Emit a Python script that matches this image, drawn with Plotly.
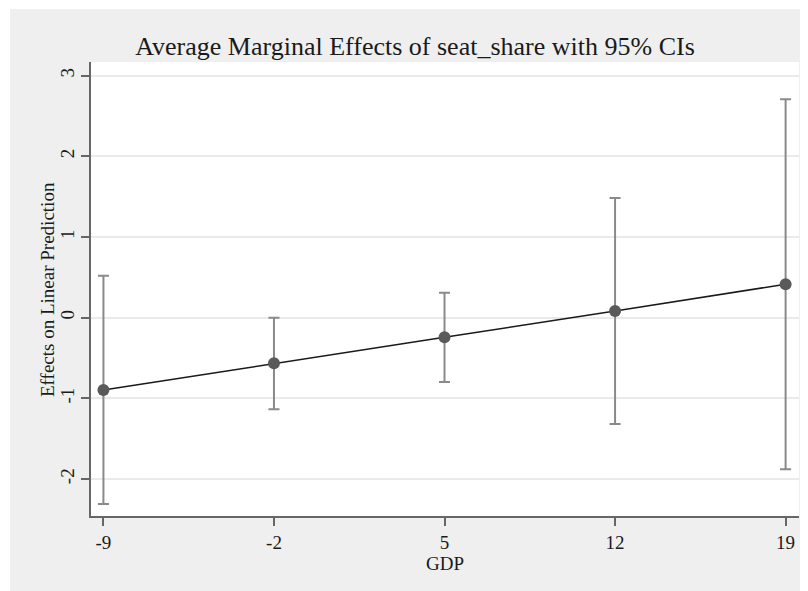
import plotly.graph_objects as go

gdp = [-9, -2, 5, 12, 19]
effect = [-0.896, -0.565, -0.243, 0.083, 0.414]
ci_upper = [0.52, 0.00, 0.31, 1.483, 2.706]
ci_lower = [-2.309, -1.135, -0.797, -1.317, -1.879]
x_ticks = [-9, -2, 5, 12, 19]
y_ticks = [-2, -1, 0, 1, 2, 3]

err_plus = [u - e for u, e in zip(ci_upper, effect)]
err_minus = [e - l for e, l in zip(effect, ci_lower)]

FONT = "Liberation Serif, Times New Roman, serif"
GRAY_BG = "#efefef"

W, H = 800, 583
L, R, T, B = 83, 9, 54, 75
PW, PH = W - L - R, H - T - B

fig = go.Figure()
fig.add_trace(go.Scatter(
    x=gdp, y=effect, mode="markers",
    marker=dict(size=0.1, color="rgba(0,0,0,0)"),
    error_y=dict(type="data", symmetric=False, array=err_plus, arrayminus=err_minus,
                 color="#8a8a8a", thickness=2, width=5.5),
    showlegend=False, hoverinfo="skip"))
fig.add_trace(go.Scatter(
    x=gdp, y=effect, mode="lines+markers",
    line=dict(color="#1a1a1a", width=1.6),
    marker=dict(size=12, color="#5a5a5a"),
    showlegend=False))

fig.update_layout(
    width=W, height=H,
    margin=dict(l=L, r=R, t=T, b=B),
    paper_bgcolor=GRAY_BG, plot_bgcolor="white",
    font=dict(family=FONT, color="#1a1a1a", size=19),
    title=dict(text="Average Marginal Effects of seat_share with 95% CIs",
               x=407/W, xref="container", xanchor="center",
               y=1 - 38/H, yref="container", yanchor="middle",
               font=dict(family=FONT, size=26, color="#1a1a1a")),
    xaxis=dict(range=[-9.51, 19.55], tickvals=x_ticks, ticktext=[str(v) for v in x_ticks],
               showgrid=False, zeroline=False, showline=True, linecolor="#666666", linewidth=1.5,
               ticks="outside", ticklen=8, tickwidth=1.5, tickcolor="#666666",
               tickfont=dict(family=FONT, size=19, color="#1a1a1a")),
    yaxis=dict(range=[-2.457, 3.168], tickvals=y_ticks, ticktext=[str(v) for v in y_ticks],
               showgrid=True, gridcolor="#eaeaea", gridwidth=1.5,
               zeroline=False, showline=True, linecolor="#666666", linewidth=1.5,
               ticks="outside", ticklen=8, tickwidth=1.5, tickcolor="#666666", tickangle=-90,
               tickfont=dict(family=FONT, size=19, color="#1a1a1a")),
    shapes=[
        dict(type="rect", xref="paper", yref="paper", x0=-L/PW, x1=(2-L)/PW,
             y0=-B/PH, y1=(PH+T)/PH, fillcolor="white", line=dict(width=0), layer="below"),
        dict(type="rect", xref="paper", yref="paper", x0=-L/PW, x1=(W-L)/PW,
             y0=(PH+T-1)/PH, y1=(PH+T)/PH, fillcolor="white", line=dict(width=0), layer="below"),
    ],
    annotations=[
        dict(text="GDP", xref="paper", yref="paper", x=(437-L)/PW, y=(PH+T-555)/PH,
             showarrow=False, xanchor="center", yanchor="middle",
             font=dict(family=FONT, size=19, color="#1a1a1a")),
        dict(text="Effects on Linear Prediction", xref="paper", yref="paper",
             x=(39-L)/PW, y=(PH+T-282)/PH, textangle=-90,
             showarrow=False, xanchor="center", yanchor="middle",
             font=dict(family=FONT, size=19, color="#1a1a1a")),
    ],
)

fig.write_html("out.html")
